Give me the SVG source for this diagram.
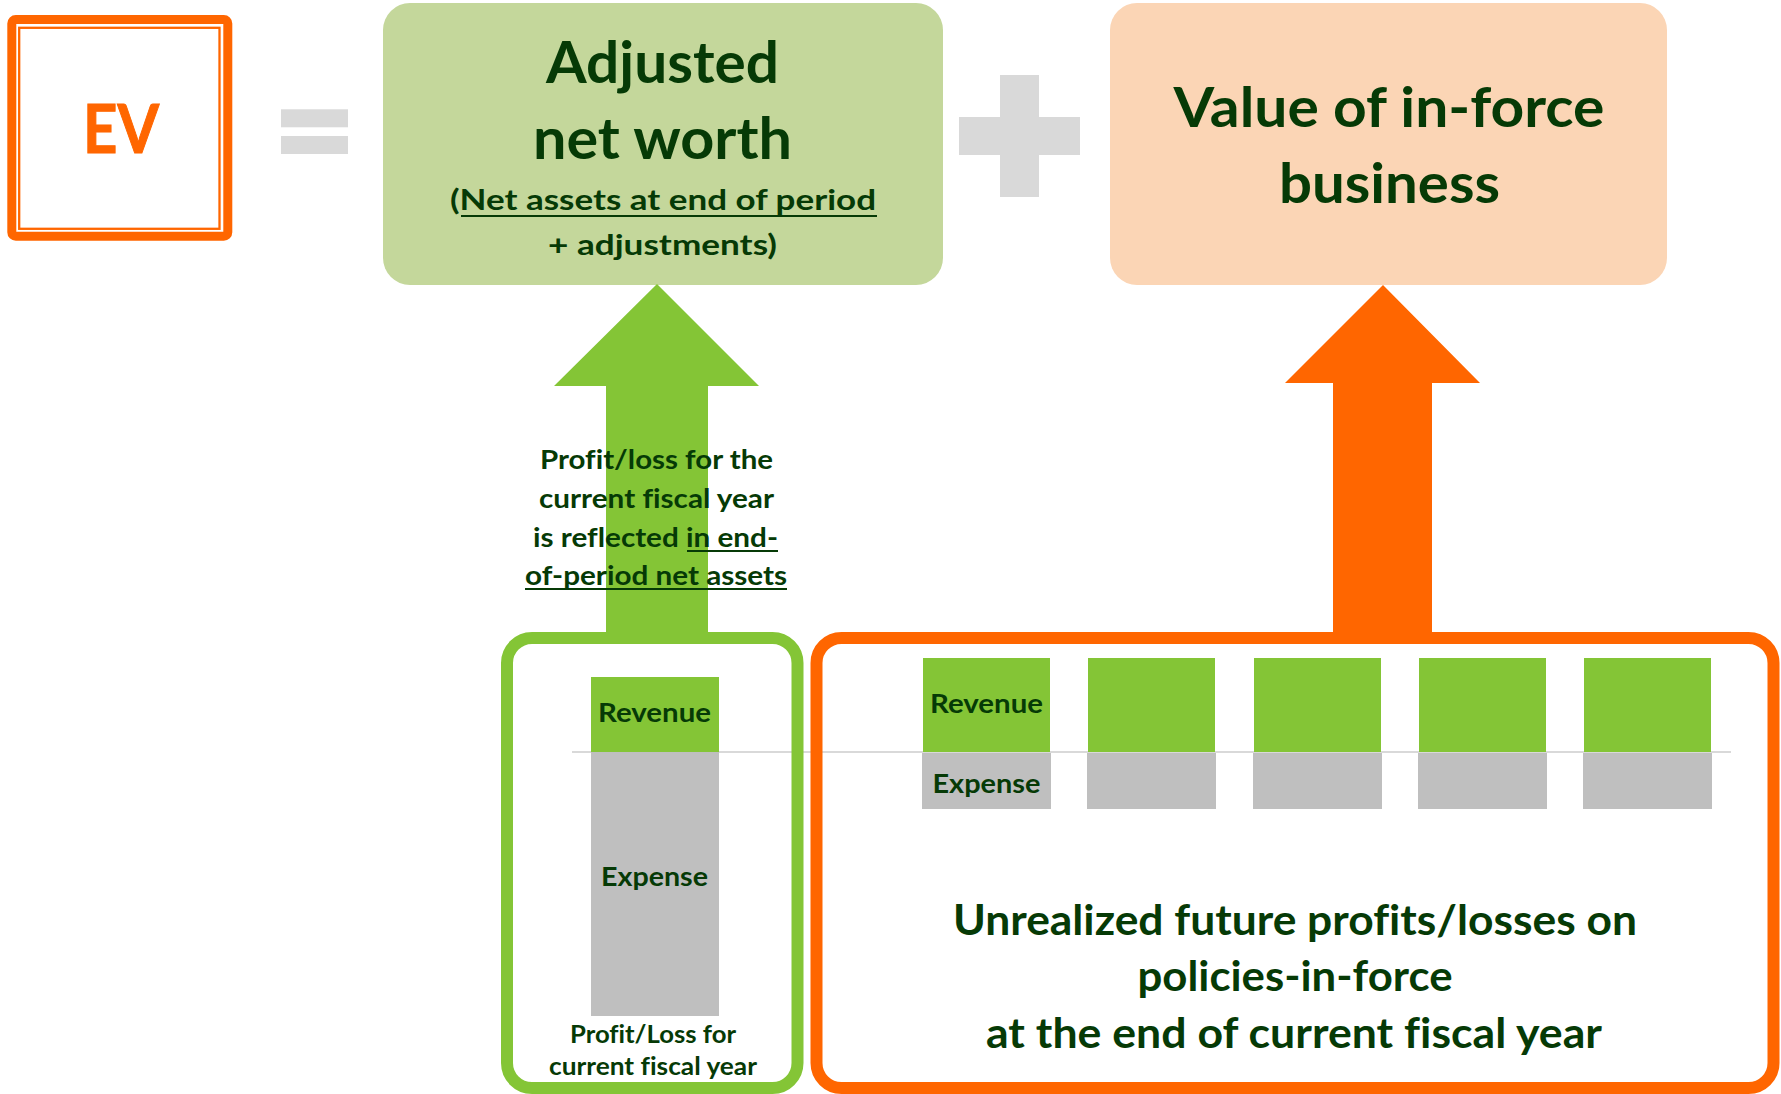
<svg xmlns="http://www.w3.org/2000/svg" width="1781" height="1094" viewBox="0 0 1781 1094">
  <style>
    .t { font-family: Lato, "Open Sans", "Liberation Sans", sans-serif; font-weight: 700; fill: #063A06; text-anchor: middle; font-variant-ligatures: none; }
    .ul { stroke: #063A06; stroke-width: 2; }
    .rev { fill: #84C536; }
    .exp { fill: #BFBFBF; }
    .sym { fill: #D9D9D9; }
  </style>
  <rect width="1781" height="1094" fill="#FFFFFF"/>

  <!-- EV -->
  <g id="ev">
    <rect x="11.8" y="19.5" width="216" height="216.7" rx="4" fill="none" stroke="#FF6600" stroke-width="9"/>
    <rect x="19.2" y="27.8" width="200.3" height="201" fill="none" stroke="#FF6600" stroke-width="2.3"/>
    <text class="t" x="121" y="153" font-size="66" style="fill:#FF6600;stroke:#FF6600;stroke-width:1" textLength="76" lengthAdjust="spacingAndGlyphs">EV</text>
  </g>

  <!-- = -->
  <g id="equals">
    <rect class="sym" x="281" y="109.3" width="67" height="18"/>
    <rect class="sym" x="281" y="136" width="67" height="18"/>
  </g>

  <!-- Adjusted net worth -->
  <g id="adjusted-net-worth">
    <rect x="383" y="3" width="560" height="282" rx="27" fill="#C4D79B"/>
    <text class="t" x="662.5" y="83" font-size="57" textLength="233" lengthAdjust="spacingAndGlyphs">Adjusted</text>
    <text class="t" x="662.5" y="159" font-size="57" textLength="259" lengthAdjust="spacingAndGlyphs">net worth</text>
    <text class="t" x="663" y="210" font-size="29" textLength="426" lengthAdjust="spacingAndGlyphs">(Net assets at end of period</text>
    <line class="ul" x1="461" y1="216" x2="877" y2="216"/>
    <text class="t" x="662.5" y="255" font-size="29" textLength="229" lengthAdjust="spacingAndGlyphs">+ adjustments)</text>
  </g>

  <!-- + -->
  <g id="plus">
    <rect class="sym" x="1000" y="75" width="39" height="122"/>
    <rect class="sym" x="959" y="117" width="121" height="38"/>
  </g>

  <!-- Value of in-force business -->
  <g id="value-in-force">
    <rect x="1110" y="3" width="557" height="282" rx="27" fill="#FBD5B5"/>
    <text class="t" x="1389" y="127" font-size="56" textLength="431" lengthAdjust="spacingAndGlyphs">Value of in-force</text>
    <text class="t" x="1389.5" y="203" font-size="56" textLength="221" lengthAdjust="spacingAndGlyphs">business</text>
  </g>

  <!-- baseline between revenue and expense -->
  <line x1="572" y1="752" x2="1731" y2="752" stroke="#D9D9D9" stroke-width="2"/>

  <!-- block arrows -->
  <g id="connectors">
    <polygon points="606,632 606,386 554,386 657,284 759,386 708,386 708,632" fill="#84C536"/>
    <polygon points="1333,632 1333,383 1285,383 1383,285 1480,383 1432,383 1432,632" fill="#FF6600"/>
    <text class="t" x="656.5" y="469" font-size="27" textLength="233" lengthAdjust="spacingAndGlyphs">Profit/loss for the</text>
    <text class="t" x="656.5" y="508" font-size="27" textLength="235" lengthAdjust="spacingAndGlyphs">current fiscal year</text>
    <text class="t" x="655.5" y="547" font-size="27" textLength="245" lengthAdjust="spacingAndGlyphs">is reflected in end-</text>
    <line class="ul" x1="687" y1="551" x2="778" y2="551"/>
    <text class="t" x="656" y="585" font-size="27" textLength="262" lengthAdjust="spacingAndGlyphs">of-period net assets</text>
    <line class="ul" x1="525" y1="589" x2="787" y2="589"/>
  </g>

  <!-- Current fiscal year -->
  <g id="current-year">
    <rect class="rev" x="591" y="677" width="128" height="75"/>
    <rect class="exp" x="591" y="752" width="128" height="264"/>
    <rect x="507" y="638" width="290.5" height="450" rx="25" fill="none" stroke="#84C536" stroke-width="12"/>
    <text class="t" x="654.5" y="722" font-size="26" textLength="113" lengthAdjust="spacingAndGlyphs">Revenue</text>
    <text class="t" x="654.5" y="886" font-size="26" textLength="107" lengthAdjust="spacingAndGlyphs">Expense</text>
    <text class="t" x="653" y="1043" font-size="24" textLength="166" lengthAdjust="spacingAndGlyphs">Profit/Loss for</text>
    <text class="t" x="653" y="1075" font-size="24" textLength="208" lengthAdjust="spacingAndGlyphs">current fiscal year</text>
  </g>

  <!-- Future fiscal years -->
  <g id="future-years">
    <rect class="rev" x="923" y="658" width="127" height="94"/>
    <rect class="rev" x="1088" y="658" width="127" height="94"/>
    <rect class="rev" x="1254" y="658" width="127" height="94"/>
    <rect class="rev" x="1419" y="658" width="127" height="94"/>
    <rect class="rev" x="1584" y="658" width="127" height="94"/>
    <rect class="exp" x="922" y="753" width="129" height="56"/>
    <rect class="exp" x="1087" y="753" width="129" height="56"/>
    <rect class="exp" x="1253" y="753" width="129" height="56"/>
    <rect class="exp" x="1418" y="753" width="129" height="56"/>
    <rect class="exp" x="1583" y="753" width="129" height="56"/>
    <rect x="816.5" y="638" width="957" height="450" rx="25" fill="none" stroke="#FF6600" stroke-width="12"/>
    <text class="t" x="986.5" y="713" font-size="26" textLength="113" lengthAdjust="spacingAndGlyphs">Revenue</text>
    <text class="t" x="986.5" y="793" font-size="26" textLength="108" lengthAdjust="spacingAndGlyphs">Expense</text>
    <text class="t" x="1295" y="935" font-size="42" textLength="684" lengthAdjust="spacingAndGlyphs">Unrealized future profits/losses on</text>
    <text class="t" x="1295" y="991" font-size="42" textLength="315" lengthAdjust="spacingAndGlyphs">policies-in-force</text>
    <text class="t" x="1294" y="1048" font-size="42" textLength="616" lengthAdjust="spacingAndGlyphs">at the end of current fiscal year</text>
  </g>
</svg>
